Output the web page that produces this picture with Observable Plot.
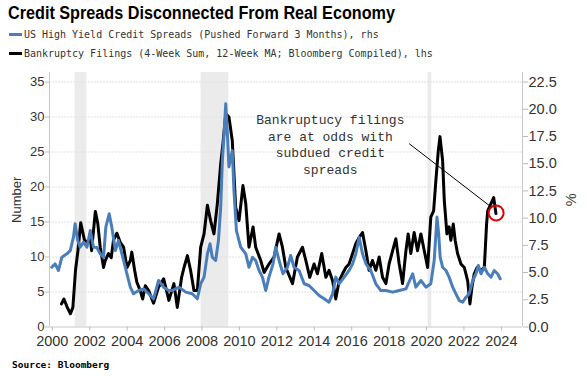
<!DOCTYPE html>
<html><head><meta charset="utf-8">
<script src="https://cdn.jsdelivr.net/npm/d3@7"></script>
<script src="https://cdn.jsdelivr.net/npm/@observablehq/plot@0.6"></script>
<style>
body{margin:0;background:#fff;width:587px;height:376px;overflow:hidden;position:relative;font-family:"DejaVu Sans Mono",monospace}
#title{position:absolute;left:8px;top:3px;font:bold 18px "Liberation Sans",sans-serif;color:#000;white-space:nowrap;transform-origin:0 0;display:inline-block}
.leg{position:absolute;left:9px;font-size:10px;color:#333;white-space:nowrap;line-height:12px}
.sw{display:inline-block;width:13px;height:3px;vertical-align:middle;margin-right:2px;position:relative;top:-1px}
.lt{display:inline-block}
#chart{position:absolute;left:0;top:62px}
#source{position:absolute;left:12px;top:359px;font:bold 9.5px "DejaVu Sans Mono",monospace;color:#000;white-space:nowrap}
</style></head>
<body>
<div id="title">Credit Spreads Disconnected From Real Economy</div>
<div class="leg" style="top:29px"><span class="sw" style="background:#4a7ebb"></span><span class="lt" id="leg1">US High Yield Credit Spreads (Pushed Forward 3 Months), rhs</span></div>
<div class="leg" style="top:48px"><span class="sw" style="background:#000"></span><span class="lt" id="leg2">Bankruptcy Filings (4-Week Sum, 12-Week MA; Bloomberg Compiled), lhs</span></div>
<div id="chart"></div>
<div id="source">Source: Bloomberg</div>
<script>
// Bankruptcy filings (left axis, number)
const filingYears = [2000.49,2000.62,2000.8,2000.97,2001.1,2001.24,2001.37,2001.52,2001.72,2001.9,2002.03,2002.1,2002.3,2002.43,2002.56,2002.74,2002.83,2003.0,2003.15,2003.27,2003.45,2003.63,2003.81,2003.99,2004.17,2004.25,2004.4,2004.52,2004.7,2004.83,2004.97,2005.15,2005.41,2005.68,2005.95,2006.23,2006.5,2006.68,2006.91,2007.04,2007.22,2007.39,2007.57,2007.75,2007.93,2008.11,2008.29,2008.46,2008.64,2008.82,2009.0,2009.12,2009.27,2009.44,2009.62,2009.8,2009.98,2010.19,2010.34,2010.51,2010.73,2010.87,2011.14,2011.32,2011.58,2011.85,2012.12,2012.3,2012.48,2012.84,2013.1,2013.37,2013.55,2013.76,2013.99,2014.17,2014.4,2014.62,2014.79,2014.98,2015.15,2015.33,2015.51,2015.69,2015.86,2016.05,2016.22,2016.4,2016.58,2016.76,2016.93,2017.11,2017.29,2017.47,2017.65,2017.83,2018.0,2018.19,2018.36,2018.54,2018.72,2018.9,2019.02,2019.16,2019.34,2019.52,2019.7,2019.88,2020.06,2020.23,2020.38,2020.5,2020.63,2020.72,2020.86,2020.95,2021.09,2021.21,2021.3,2021.43,2021.53,2021.66,2021.84,2022.02,2022.2,2022.32,2022.43,2022.55,2022.7,2022.91,2023.09,2023.21,2023.27,2023.41,2023.59,2023.71];
const filingValues = [3.3,4.0,2.8,1.9,2.8,8.1,10.9,14.9,12.4,12.1,12.8,10.9,16.5,14.8,11.4,8.5,9.5,10.5,9.9,12.4,13.4,12.1,11.4,8.5,9.5,10.7,8.1,6.4,5.2,4.0,5.9,5.2,3.4,5.7,6.9,3.8,6.2,2.8,7.1,8.5,10.2,8.1,5.2,5.2,11.4,13.3,17.4,15.2,13.3,17.6,23.3,26.2,30.5,30.0,26.6,17.1,15.2,20.2,17.6,11.4,14.3,11.4,9.5,7.8,9.0,10.0,13.3,11.4,8.5,6.2,10.0,11.4,9.5,7.1,9.0,7.6,10.5,7.1,8.1,6.6,4.0,6.6,7.6,8.5,9.0,10.5,11.9,12.8,13.5,10.9,8.1,9.5,8.1,10.0,7.1,6.2,9.0,10.9,12.6,9.0,6.2,10.9,13.3,10.5,13.5,10.9,13.3,10.9,8.5,15.7,16.6,20.9,25.2,27.2,23.8,18.1,13.3,14.3,12.4,14.7,12.4,10.5,9.0,8.5,6.6,3.3,5.7,7.6,8.5,8.1,8.5,14.7,16.6,17.4,18.5,16.2];
// US HY credit spreads pushed forward 3 months (right axis, %)
const spreadYears = [1999.97,2000.15,2000.33,2000.51,2000.78,2000.96,2001.13,2001.22,2001.36,2001.49,2001.67,2001.85,2002.03,2002.2,2002.38,2002.56,2002.74,2002.86,2003.04,2003.18,2003.37,2003.54,2003.72,2003.99,2004.17,2004.34,2004.61,2004.88,2005.15,2005.41,2005.68,2005.95,2006.22,2006.41,2006.77,2007.13,2007.48,2007.75,2007.93,2008.11,2008.29,2008.43,2008.55,2008.73,2008.88,2009.0,2009.09,2009.18,2009.27,2009.36,2009.44,2009.62,2009.71,2009.84,2010.07,2010.34,2010.51,2010.7,2010.87,2011.05,2011.23,2011.41,2011.58,2011.8,2011.94,2012.12,2012.33,2012.57,2012.74,2012.92,2013.19,2013.46,2013.72,2013.99,2014.26,2014.53,2014.79,2014.98,2015.15,2015.33,2015.6,2015.86,2016.05,2016.22,2016.4,2016.58,2016.76,2017.02,2017.29,2017.56,2017.83,2018.19,2018.54,2018.9,2019.26,2019.43,2019.7,2019.97,2020.23,2020.41,2020.56,2020.65,2020.73,2020.86,2021.04,2021.21,2021.4,2021.57,2021.75,2021.93,2022.11,2022.28,2022.47,2022.64,2022.77,2022.91,2023.09,2023.27,2023.45,2023.62,2023.8,2023.94];
const spreadValues = [5.49,5.8,5.19,6.41,6.72,7.02,8.25,9.48,7.94,7.33,7.79,7.33,8.86,7.33,7.3,6.72,6.41,9.17,10.4,9.17,7.02,7.94,6.72,4.89,3.66,3.05,3.35,3.5,3.05,2.59,4.27,3.66,3.35,3.35,3.66,3.2,3.05,2.59,3.97,4.58,6.72,7.64,6.41,6.11,7.94,11.0,15.3,17.7,20.5,17.7,14.7,16.2,12.5,8.86,7.33,6.72,5.49,6.41,6.11,5.19,4.58,3.35,4.58,5.8,7.33,6.11,4.89,5.49,6.57,5.49,5.19,3.97,3.81,3.35,2.89,2.59,2.28,3.05,4.58,3.97,4.58,5.19,5.8,6.72,8.25,6.72,5.8,5.19,3.97,3.35,3.35,3.2,3.35,3.5,4.89,3.66,4.27,3.66,3.97,6.11,10.1,8.56,6.41,5.49,5.19,4.58,3.66,3.05,2.43,2.28,2.74,3.05,4.27,4.89,5.65,4.89,5.49,4.89,4.58,5.19,4.89,4.43];
// Recessions
const recessionStart = [2001.22, 2007.95, 2020.08];
const recessionEnd = [2001.84, 2009.43, 2020.28];
// Tick labels
const leftTicks = [0,5,10,15,20,25,30,35];
const rightTicks = [0,2.5,5,7.5,10,12.5,15,17.5,20,22.5];
const yearTicks = [2000,2002,2004,2006,2008,2010,2012,2014,2016,2018,2020,2022,2024];
// Annotation
const noteText = ["Bankruptucy filings","are at odds with","subdued credit","spreads"];
const noteAt = [2014.86, 26.2];
const arrowFrom = [2019.07, 26.2];
const arrowTo = [2023.38, 17.3];
const circleAt = [2023.72, 16.3];

const k = 35 / 22.5; // right-axis % -> left-axis units
const xDomain = [1999.85, 2025.13];
const yTop = 36.36;

const filings = filingYears.map((x, i) => ({x, y: filingValues[i]}));
const spreads = spreadYears.map((x, i) => ({x, y: spreadValues[i] * k}));
const recessions = recessionStart.map((s, i) => ({x1: s, x2: recessionEnd[i]}));

const chart = Plot.plot({
  width: 587, height: 295,
  marginLeft: 49, marginRight: 65, marginTop: 10, marginBottom: 30.5,
  style: {fontFamily: "Liberation Sans, sans-serif", fontSize: "14.5px", color: "#333", background: "transparent"},
  x: {domain: xDomain},
  y: {domain: [0, yTop]},
  marks: [
    Plot.rect(recessions, {x1: "x1", x2: "x2", y1: 0, y2: yTop, fill: "#ebebeb"}),
    Plot.gridY(leftTicks.filter(d => d > 0), {stroke: "#e2e2e2", strokeOpacity: 1, strokeDasharray: "2,1"}),
    Plot.ruleY([0], {stroke: "#c8c8c8"}),
    Plot.ruleX([xDomain[0]], {y1: 0, y2: yTop, stroke: "#c8c8c8"}),
    Plot.ruleX([xDomain[1]], {y1: 0, y2: yTop, stroke: "#c8c8c8"}),
    Plot.line(filings, {x: "x", y: "y", stroke: "#000", strokeWidth: 3, strokeLinejoin: "round"}),
    Plot.line(spreads, {x: "x", y: "y", stroke: "#4a7ebb", strokeWidth: 3, strokeLinejoin: "round"}),
    Plot.axisY(leftTicks, {anchor: "left", tickSize: 4, tickPadding: 1, stroke: "#bbb", fill: "#333",
      label: "Number", labelAnchor: "center", labelArrow: "none", labelOffset: 38, fontSize: 13}),
    Plot.axisY(rightTicks.map(d => d * k), {anchor: "right", tickSize: 5, tickPadding: 1, stroke: "#bbb", fill: "#333",
      tickFormat: d => (d / k).toFixed(1), label: "%", labelAnchor: "center", labelArrow: "none", labelOffset: 53}),
    Plot.axisX(yearTicks, {anchor: "bottom", tickSize: 4, tickPadding: 5, stroke: "#bbb", fill: "#333", tickFormat: d => String(d), label: null}),
    Plot.link([{a: arrowFrom, b: arrowTo}], {x1: d => d.a[0], y1: d => d.a[1], x2: d => d.b[0], y2: d => d.b[1], stroke: "#000", strokeWidth: 1}),
    Plot.dot([circleAt], {x: d => d[0], y: d => d[1], r: 7.5, stroke: "#e00000", strokeWidth: 2, fill: "none"}),
    Plot.text([noteAt], {x: d => d[0], y: d => d[1], text: () => noteText.join("\n"), fontFamily: "Liberation Mono, monospace",
      fontSize: 13, lineHeight: 1.28, fill: "#333", textAnchor: "middle"})
  ]
});
document.getElementById("chart").appendChild(chart);

// fit header texts to the reference widths
const title = document.getElementById("title");
title.style.transform = `scaleX(${387 / title.getBoundingClientRect().width})`;
for (const [id, target] of [["leg1", 355], ["leg2", 409]]) {
  const el = document.getElementById(id);
  el.style.fontSize = (10 * target / el.getBoundingClientRect().width) + "px";
}
</script>
</body></html>
